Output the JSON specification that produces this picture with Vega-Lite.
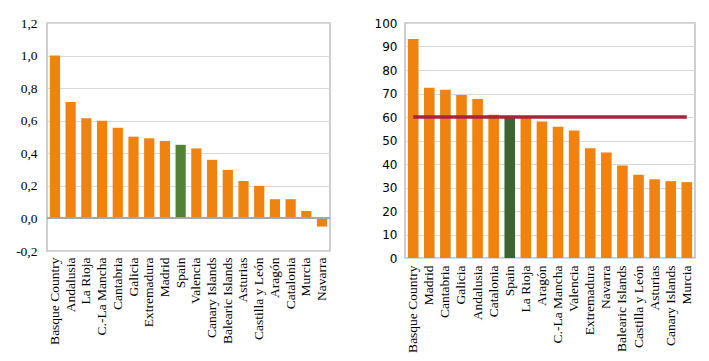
{
  "$schema": "https://vega.github.io/schema/vega-lite/v6.json",
  "padding": {"left": 14, "top": 15, "right": 5, "bottom": 5},
  "background": "white",
  "spacing": 41,
  "datasets": {
    "left": [
      {"region": "Basque Country", "value": 1.0},
      {"region": "Andalusia", "value": 0.715},
      {"region": "La Rioja", "value": 0.615},
      {"region": "C.-La Mancha", "value": 0.6},
      {"region": "Cantabria", "value": 0.557},
      {"region": "Galicia", "value": 0.502},
      {"region": "Extremadura", "value": 0.492},
      {"region": "Madrid", "value": 0.476},
      {"region": "Spain", "value": 0.452},
      {"region": "Valencia", "value": 0.43},
      {"region": "Canary Islands", "value": 0.36},
      {"region": "Balearic Islands", "value": 0.298},
      {"region": "Asturias", "value": 0.23},
      {"region": "Castilla y León", "value": 0.2},
      {"region": "Aragón", "value": 0.118},
      {"region": "Catalonia", "value": 0.118},
      {"region": "Murcia", "value": 0.045},
      {"region": "Navarra", "value": -0.05}
    ],
    "right": [
      {"region": "Basque Country", "value": 93.2, "ref": 60},
      {"region": "Madrid", "value": 72.5, "ref": 60},
      {"region": "Cantabria", "value": 71.6, "ref": 60},
      {"region": "Galicia", "value": 69.4, "ref": 60},
      {"region": "Andalusia", "value": 67.7, "ref": 60},
      {"region": "Catalonia", "value": 61.0, "ref": 60},
      {"region": "Spain", "value": 59.6, "ref": 60},
      {"region": "La Rioja", "value": 60.0, "ref": 60},
      {"region": "Aragón", "value": 58.1, "ref": 60},
      {"region": "C.-La Mancha", "value": 55.9, "ref": 60},
      {"region": "Valencia", "value": 54.3, "ref": 60},
      {"region": "Extremadura", "value": 46.7, "ref": 60},
      {"region": "Navarra", "value": 44.9, "ref": 60},
      {"region": "Balearic Islands", "value": 39.4, "ref": 60},
      {"region": "Castilla y León", "value": 35.4, "ref": 60},
      {"region": "Asturias", "value": 33.5, "ref": 60},
      {"region": "Canary Islands", "value": 32.7, "ref": 60},
      {"region": "Murcia", "value": 32.3, "ref": 60}
    ]
  },
  "hconcat": [
    {
      "width": 283,
      "height": 228,
      "data": {"name": "left"},
      "layer": [
        {
          "mark": {"type": "bar"},
          "encoding": {
            "x": {
              "field": "region", "type": "nominal", "sort": null,
              "scale": {"paddingInner": 0.35, "paddingOuter": 0.18},
              "axis": {"title": null, "labelAngle": -90, "ticks": false, "domain": false, "labelPadding": 6, "labelOverlap": false, "labelFont": "Liberation Serif", "labelFontSize": 13.5, "labelColor": "#000"}
            },
            "y": {
              "field": "value", "type": "quantitative",
              "scale": {"domain": [-0.2, 1.2], "nice": false},
              "axis": {"title": null, "values": [-0.2, 0, 0.2, 0.4, 0.6, 0.8, 1.0, 1.2], "labelExpr": "replace(replace(format(datum.value, '.1f'), '.', ','), '\u2212', '-')", "ticks": false, "domain": false, "labelPadding": 10, "labelOverlap": false, "labelFlush": false, "labelFont": "Liberation Serif", "labelFontSize": 13.5, "labelColor": "#000", "gridColor": "#D9D9D9"}
            },
            "color": {"condition": {"test": "datum.region === 'Spain'", "value": "#548235"}, "value": "#F0820F"}
          }
        },
        {
          "mark": {"type": "rule", "color": "#A6A6A6", "strokeWidth": 1.2},
          "encoding": {
            "y": {
              "datum": 0, "type": "quantitative",
              "scale": {"domain": [-0.2, 1.2], "nice": false},
              "axis": {"title": null, "values": [-0.2, 0, 0.2, 0.4, 0.6, 0.8, 1.0, 1.2], "labelExpr": "replace(replace(format(datum.value, '.1f'), '.', ','), '\u2212', '-')", "ticks": false, "domain": false, "labelPadding": 10, "labelOverlap": false, "labelFlush": false, "labelFont": "Liberation Serif", "labelFontSize": 13.5, "labelColor": "#000", "gridColor": "#D9D9D9"}
            }
          }
        }
      ]
    },
    {
      "width": 290,
      "height": 235,
      "data": {"name": "right"},
      "layer": [
        {
          "mark": {"type": "bar"},
          "encoding": {
            "x": {
              "field": "region", "type": "nominal", "sort": null,
              "scale": {"paddingInner": 0.34, "paddingOuter": 0.18},
              "axis": {"title": null, "labelAngle": -90, "ticks": false, "domain": false, "labelPadding": 7, "labelOverlap": false, "labelFont": "Liberation Serif", "labelFontSize": 13.5, "labelColor": "#000"}
            },
            "y": {
              "field": "value", "type": "quantitative",
              "scale": {"domain": [0, 100], "nice": false},
              "axis": {"title": null, "values": [0, 10, 20, 30, 40, 50, 60, 70, 80, 90, 100], "ticks": false, "domain": false, "labelPadding": 8, "labelOverlap": false, "labelFlush": false, "labelFont": "DejaVu Sans", "labelFontSize": 12, "labelColor": "#000", "gridColor": "#D9D9D9"}
            },
            "color": {"condition": {"test": "datum.region === 'Spain'", "value": "#3D6333"}, "value": "#F0820F"}
          }
        },
        {
          "mark": {"type": "line", "color": "#A3263A", "strokeWidth": 3.5},
          "encoding": {
            "x": {
              "field": "region", "type": "nominal", "sort": null,
              "scale": {"paddingInner": 0.34, "paddingOuter": 0.18},
              "axis": {"title": null, "labelAngle": -90, "ticks": false, "domain": false, "labelPadding": 7, "labelOverlap": false, "labelFont": "Liberation Serif", "labelFontSize": 13.5, "labelColor": "#000"}
            },
            "y": {
              "field": "ref", "type": "quantitative",
              "scale": {"domain": [0, 100], "nice": false},
              "axis": {"title": null, "values": [0, 10, 20, 30, 40, 50, 60, 70, 80, 90, 100], "ticks": false, "domain": false, "labelPadding": 8, "labelOverlap": false, "labelFlush": false, "labelFont": "DejaVu Sans", "labelFontSize": 12, "labelColor": "#000", "gridColor": "#D9D9D9"}
            }
          }
        }
      ]
    }
  ],
  "config": {
    "view": {"stroke": "#BFBFBF", "strokeWidth": 1.5},
    "axis": {"gridColor": "#D9D9D9"}
  }
}
